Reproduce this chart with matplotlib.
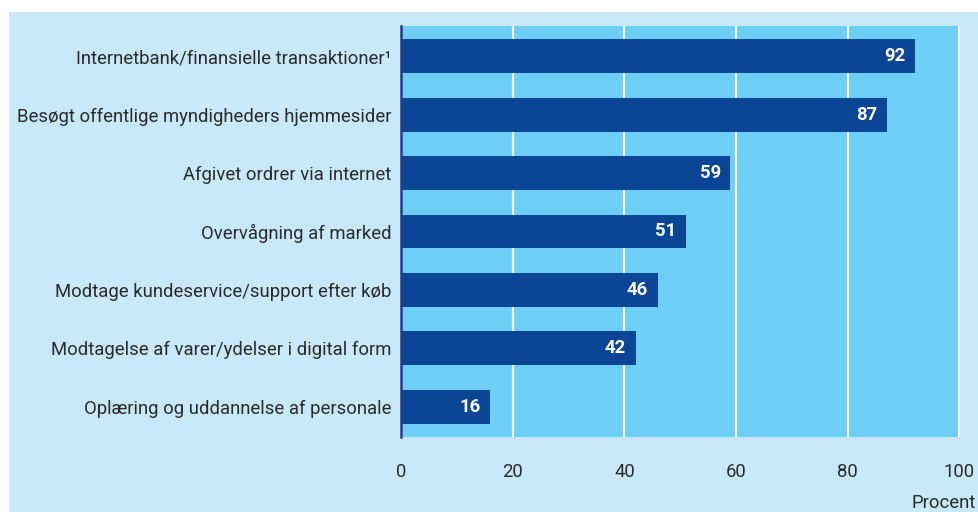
import matplotlib
matplotlib.use("Agg")
import matplotlib.pyplot as plt
from matplotlib import font_manager
from matplotlib.patches import Rectangle

categories = [
    "Internetbank/finansielle transaktioner\u00b9",
    "Besøgt offentlige myndigheders hjemmesider",
    "Afgivet ordrer via internet",
    "Overvågning af marked",
    "Modtage kundeservice/support efter køb",
    "Modtagelse af varer/ydelser i digital form",
    "Oplæring og uddannelse af personale",
]
values = [92, 87, 59, 51, 46, 42, 16]
xticks = [0, 20, 40, 60, 80, 100]
xlabel = "Procent"

names = {f.name for f in font_manager.fontManager.ttflist}
fam = "Liberation Sans Narrow" if "Liberation Sans Narrow" in names else "Roboto"
plt.rcParams['font.family'] = [fam, 'DejaVu Sans']

BG = "#c7e9f9"
PLOT = "#6dcff6"
BAR = "#0b4595"
TXT = "#2b2b2b"
FS = 13.3

fig = plt.figure(figsize=(9.79, 5.12), dpi=100)
fig.patch.set_facecolor("white")
bg = Rectangle((9/979, 0), 1 - 9/979, 1 - 12/512, transform=fig.transFigure,
               facecolor=BG, edgecolor="none", zorder=-10)
fig.add_artist(bg)

ax = fig.add_axes([401/979, 75/512, 559/979, 411/512])
ax.set_zorder(1)
ax.set_facecolor(PLOT)
ypos = list(range(len(categories)))
ax.barh(ypos, values, height=0.58, color=BAR, zorder=3)
ax.set_ylim(len(categories) - 0.48, -0.52)
ax.set_xlim(0, 100.1)
ax.set_xticks(xticks)
ax.set_xticklabels([str(t) for t in xticks], fontsize=FS, color=TXT)
ax.set_yticks(ypos)
ax.set_yticklabels(categories, fontsize=FS, color=TXT)
ax.tick_params(axis='x', length=0, pad=19)
ax.tick_params(axis='y', length=0, pad=7)
ax.grid(axis='x', color='white', linewidth=1.5, zorder=1)
for s in ['top', 'right', 'bottom']:
    ax.spines[s].set_visible(False)
ax.spines['left'].set_color("#2b3990")
ax.spines['left'].set_linewidth(1.8)
ax.spines['left'].set_zorder(4)

for y, v in zip(ypos, values):
    ax.annotate(str(v), xy=(v, y), xytext=(-7, 0), textcoords='offset points',
                ha='right', va='center', color='white', fontsize=FS, fontweight='bold', zorder=5)

fig.text(976/979, 1 - 503/512, xlabel, ha='right', va='center', fontsize=FS, color=TXT)

fig.savefig("out.png", dpi=100, facecolor=fig.get_facecolor())
